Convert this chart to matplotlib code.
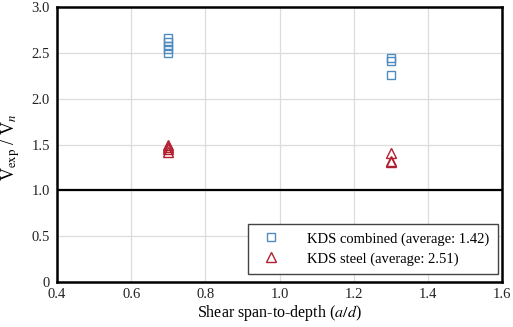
import numpy as np
import matplotlib
matplotlib.use("Agg")
import matplotlib.pyplot as plt

plt.rcParams["font.family"] = "Liberation Serif"
plt.rcParams["mathtext.fontset"] = "stix"

# data
combined_x = [0.7, 0.7, 0.7, 0.7, 0.7, 1.3, 1.3, 1.3]
combined_y = [2.66, 2.62, 2.57, 2.54, 2.50, 2.44, 2.41, 2.26]
steel_x = [0.7, 0.7, 0.7, 0.7, 1.3, 1.3, 1.3]
steel_y = [1.50, 1.47, 1.45, 1.42, 1.41, 1.32, 1.31]

x_ticks = [0.4, 0.6, 0.8, 1.0, 1.2, 1.4, 1.6]
x_labels = ["0.4", "0.6", "0.8", "1.0", "1.2", "1.4", "1.6"]
y_ticks = [0, 0.5, 1.0, 1.5, 2.0, 2.5, 3.0]
y_labels = ["0", "0.5", "1.0", "1.5", "2.0", "2.5", "3.0"]

fig = plt.figure(figsize=(5.13, 3.27), dpi=100)
ax = fig.add_axes([57 / 513, 45 / 327, 445 / 513, 275 / 327])

ax.plot(combined_x, combined_y, linestyle="none", marker="s", markersize=6,
        markerfacecolor="none", markeredgecolor="#4f8bbf", markeredgewidth=1.0,
        label="KDS combined (average: 1.42)", zorder=3)
ax.plot(steel_x, steel_y, linestyle="none", marker="^", markersize=6.5,
        markerfacecolor="none", markeredgecolor="#b22030", markeredgewidth=1.0,
        label="KDS steel (average: 2.51)", zorder=3)

ax.axhline(1.0, color="black", linewidth=1.6, zorder=2)

ax.set_xlim(0.4, 1.6)
ax.set_ylim(0, 3.0)
ax.set_xticks(x_ticks)
ax.set_xticklabels(x_labels)
ax.set_yticks(y_ticks)
ax.set_yticklabels(y_labels)
ax.tick_params(axis="both", length=0, labelsize=10.5, colors="#222222")
ax.tick_params(axis="x", pad=4)
ax.tick_params(axis="y", pad=5)
ax.grid(True, color="#dcdcdc", linewidth=0.9)
ax.set_axisbelow(True)
for spine in ax.spines.values():
    spine.set_linewidth(1.8)
    spine.set_color("black")

ax.set_xlabel("Shear span-to-depth ($a/d$)", fontsize=11.5, labelpad=2)
ax.set_ylabel("V$_{\\mathrm{exp}}$ / V$_n$", fontsize=13)
ax.yaxis.set_label_coords(-35 / 445, 0.49)

leg = ax.legend(loc="lower right", bbox_to_anchor=(0.99, 0.03), fontsize=10.5,
                frameon=True, fancybox=False, framealpha=1, edgecolor="#444444",
                borderpad=0.55, handletextpad=1.5, borderaxespad=0.0,
                labelspacing=0.45, handlelength=2.0)
leg.get_frame().set_linewidth(1.0)

fig.savefig("out.png", dpi=100)
